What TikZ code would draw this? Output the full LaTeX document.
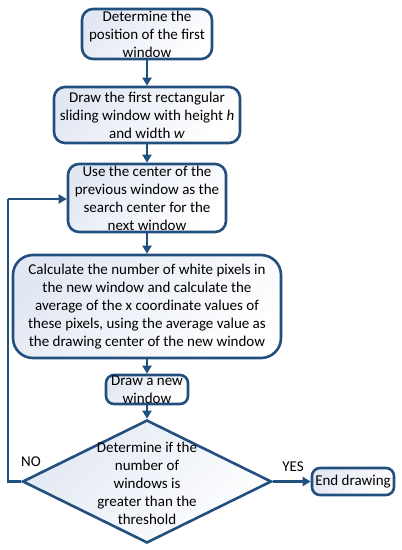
\documentclass[tikz,border=0pt]{standalone}
\usepackage{fontspec}
\setmainfont{Carlito}
\usetikzlibrary{shapes.geometric,arrows.meta}
\definecolor{edge}{RGB}{34,80,126}
\definecolor{boxfill}{RGB}{226,232,243}
\tikzset{
  box/.style={draw=edge, line width=2.6pt, rounded corners=11pt, inner sep=0pt,
    top color=boxfill, bottom color=white, shading angle=45,
    align=center, font=\fontsize{15}{18}\selectfont},
  decision/.style={diamond, draw=edge, line width=2.6pt, inner sep=0pt,
    top color=boxfill, bottom color=white, shading angle=45},
  txt/.style={align=center, inner sep=0pt, font=\fontsize{15}{18}\selectfont},
  conn/.style={draw=edge, line width=2.6pt, -{Triangle[length=8pt,width=9pt]}},
  line/.style={draw=edge, line width=2.6pt}
}
\begin{document}
\begin{tikzpicture}[x=1pt,y=-1pt]
\useasboundingbox (0,0) rectangle (402,550);
\node[box, minimum width=130pt, minimum height=50pt] (b1) at (147,34)
  {Determine the\\position of the first\\window};
\node[box, minimum width=186pt, minimum height=56pt] (b2) at (147,115)
  {Draw the first rectangular\\sliding window with height \textit{h}\\and width \textit{w}};
\node[box, minimum width=158pt, minimum height=68pt] (b3) at (147,198)
  {Use the center of the\\previous window as the\\search center for the\\next window};
\node[box, rounded corners=20pt, minimum width=268pt, minimum height=103pt] (b4) at (147,306.5)
  {Calculate the number of white pixels in\\the new window and calculate the\\average of the x coordinate values of\\these pixels, using the average value as\\the drawing center of the new window};
\node[box, rounded corners=8pt, minimum width=82pt, minimum height=29pt] (b5) at (147,389.5)
  {Draw a new\\window};
\node[decision, minimum width=249pt, minimum height=123pt] (dec) at (147,481.5) {};
\node[txt] (dect) at (147,483)
  {Determine if the\\number of\\windows is\\greater than the\\threshold};
\node[box, rounded corners=8pt, minimum width=82pt, minimum height=27pt] (end) at (353,481.5)
  {End drawing};
\node[txt] (yes) at (293,467) {YES};
\node[txt] (no) at (31,462) {NO};
\coordinate (c1) at (8,481.5);
\coordinate (c2) at (8,199);
\draw[conn] (b1) -- (b2);
\draw[conn] (b2) -- (b3);
\draw[conn] (b3) -- (b4);
\draw[conn] (b4) -- (b5);
\draw[conn] (b5) -- (dec);
\draw[conn] (dec.east) -- (end.west);
\draw[line] (dec.west) -- (c1) -- (c2);
\draw[conn] (c2) -- (c2 -| b3.west);
\end{tikzpicture}
\end{document}
